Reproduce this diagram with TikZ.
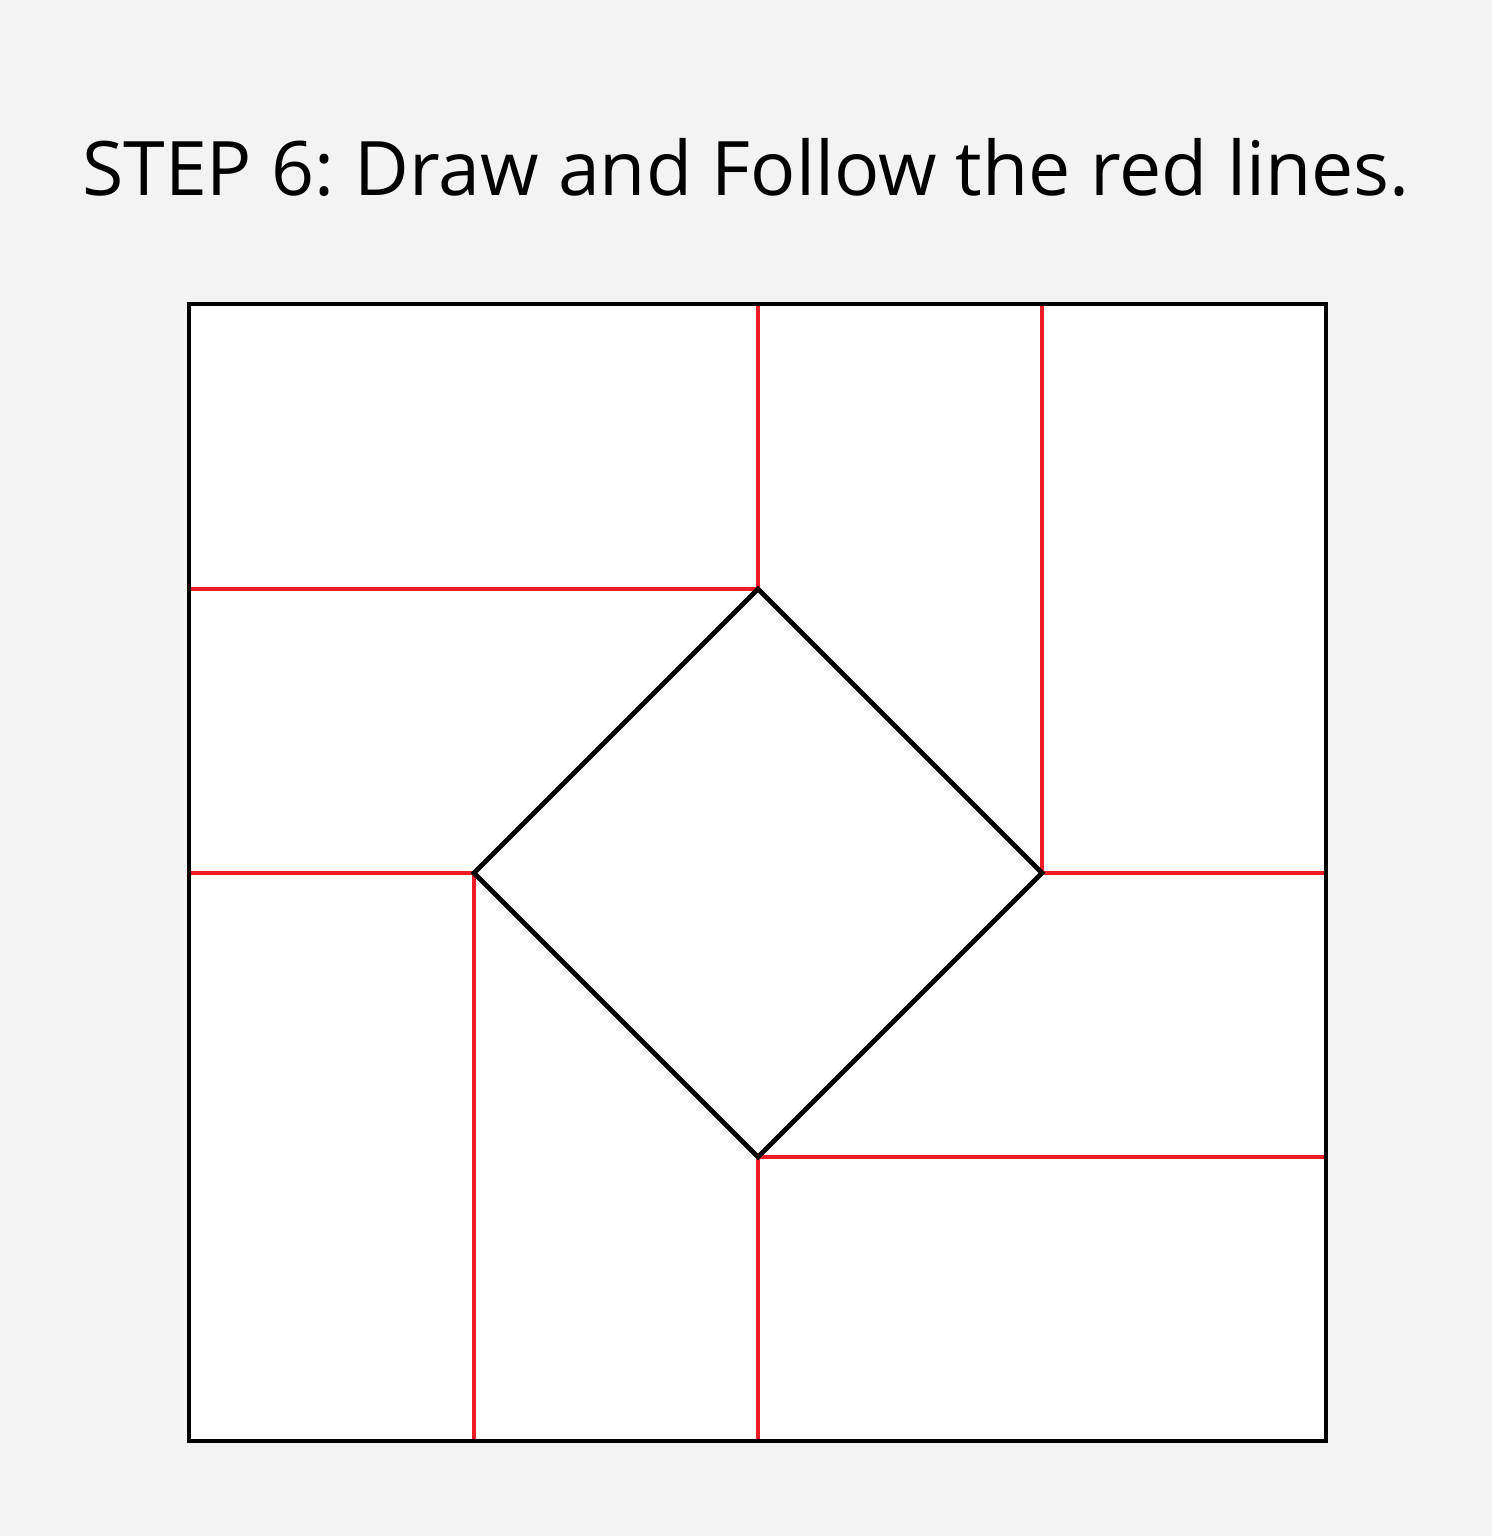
\documentclass[tikz,border=0pt]{standalone}
\usepackage{fontspec}
\setmainfont{Open Sans}
\usetikzlibrary{positioning}
\definecolor{paper}{HTML}{F3F3F3}
\definecolor{redline}{HTML}{ED1C24}
\frenchspacing

\begin{document}
\begin{tikzpicture}[
  x=0.5pt, y=-0.5pt,
  frame/.style={draw=black, line width=2.4pt, fill=white},
  diamondline/.style={draw=black, line width=2.4pt, line join=miter},
  guide/.style={draw=redline, line width=2pt}
]
\fill[paper] (0,0) rectangle (1492,1536);
\useasboundingbox (0,0) rectangle (1492,1536);
\node[anchor=base, font=\fontsize{37.6}{45}\selectfont, inner sep=0pt] (title) at (746,195) {STEP 6: Draw and Follow the red lines.};
% grid points
\coordinate (tl) at (189,304);
\coordinate (br) at (1326,1441);
\coordinate (topA) at (758,304);
\coordinate (topB) at (1042,304);
\coordinate (leftA) at (189,589);
\coordinate (leftB) at (189,873);
\coordinate (rightA) at (1326,873);
\coordinate (rightB) at (1326,1157);
\coordinate (botA) at (474,1441);
\coordinate (botB) at (758,1441);
\coordinate (dn) at (758,589);
\coordinate (de) at (1042,873);
\coordinate (ds) at (758,1157);
\coordinate (dw) at (474,873);
\path[frame] (tl) rectangle (br);
% red lines
\draw[guide] (leftA) -- (dn) -- (topA);
\draw[guide] (topB) -- (de) -- (rightA);
\draw[guide] (rightB) -- (ds) -- (botB);
\draw[guide] (botA) -- (dw) -- (leftB);
\draw[diamondline] (dn) -- (de) -- (ds) -- (dw) -- cycle;
\path[draw=black, line width=2.4pt] (tl) rectangle (br);
\end{tikzpicture}
\end{document}
